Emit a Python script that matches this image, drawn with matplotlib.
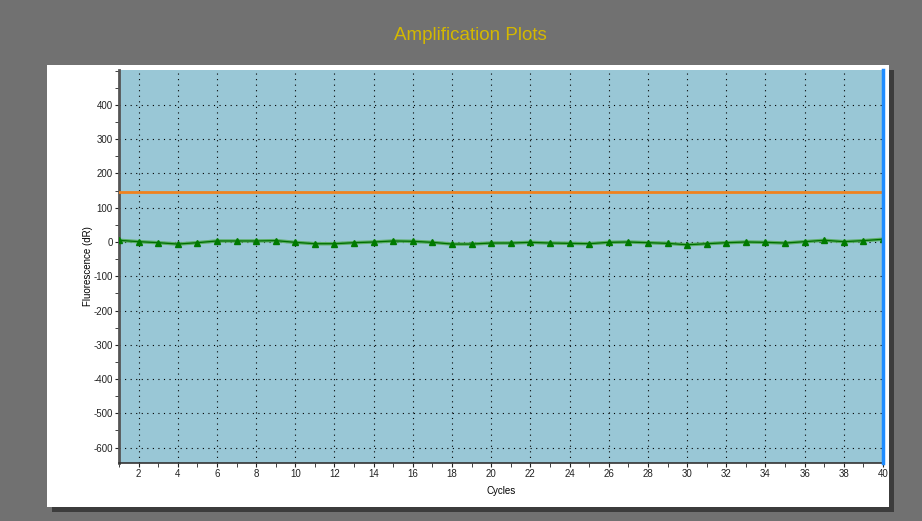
import matplotlib.pyplot as plt
from matplotlib.patches import Rectangle
from matplotlib.ticker import MultipleLocator

plt.rcParams['font.family'] = ['Liberation Sans', 'DejaVu Sans']
plt.rcParams['axes.unicode_minus'] = False

cycles = list(range(1, 41))
fluor = [5, 1, -2, -6, -2, 3, 3, 3, 4, -1,
         -5, -5, -2, 0, 3, 2, -1, -6, -6, -3,
         -3, -1, -3, -4, -5, -1, 0, -2, -4, -8,
         -5, -2, 0, -1, -3, 1, 5, 1, 4, 8]
threshold = 145

W, H = 922, 521
fig = plt.figure(figsize=(W / 100, H / 100), dpi=100)
fig.patch.set_facecolor('#717171')

# white panel with drop shadow (pixel coords -> figure fraction)
def px_rect(x0, y0, x1, y1, color, z):
    fig.patches.append(Rectangle((x0 / W, 1 - y1 / H), (x1 - x0) / W, (y1 - y0) / H,
                                 transform=fig.transFigure, facecolor=color,
                                 edgecolor='none', zorder=z))

px_rect(52, 70, 894, 512, '#3c3c3c', 0)
px_rect(47, 65, 889, 507, 'white', 1)

ax = fig.add_axes([119 / W, 1 - 463 / H, (883 - 119) / W, (463 - 70) / H])
ax.set_zorder(2)
ax.set_facecolor('#99c7d6')

ax.axhline(threshold, color='#f0821e', lw=2, zorder=3)
ax.plot(cycles, fluor, color='#5aae64', lw=2.5, zorder=4)
ax.plot(cycles, fluor, color='#006e00', lw=0.9, marker='^', markersize=5,
        markerfacecolor='#007a00', markeredgecolor='#007a00', zorder=5)
ax.axvline(40, color='#1e8cff', lw=2.5, zorder=6, clip_on=False)

ax.set_xlim(1, 40)
ax.set_ylim(-645, 502)
ax.xaxis.set_major_locator(MultipleLocator(2))
ax.xaxis.set_minor_locator(MultipleLocator(1))
ax.yaxis.set_major_locator(MultipleLocator(100))
ax.yaxis.set_minor_locator(MultipleLocator(50))
ax.set_yticks(range(-600, 401, 100))

ax.grid(True, which='major', color='black', linestyle=(0, (1, 4)), linewidth=0.8)
ax.tick_params(which='both', direction='out', labelsize=7, colors='#222222',
               length=3, pad=1.5)
for s in ['top', 'right']:
    ax.spines[s].set_visible(False)
ax.spines['left'].set_color('#555555')
ax.spines['left'].set_linewidth(2)
ax.spines['bottom'].set_color('#333333')
ax.spines['bottom'].set_linewidth(1.2)

ax.set_xlabel('Cycles', fontsize=7, labelpad=5)
ax.set_ylabel('Fluorescence (dR)', fontsize=7, labelpad=0)

fig.text(470 / W, 1 - 35 / H, 'Amplification Plots', color='#d4b800',
         fontsize=13.5, ha='center', va='center')

fig.savefig('out.png', dpi=100, facecolor=fig.get_facecolor())
